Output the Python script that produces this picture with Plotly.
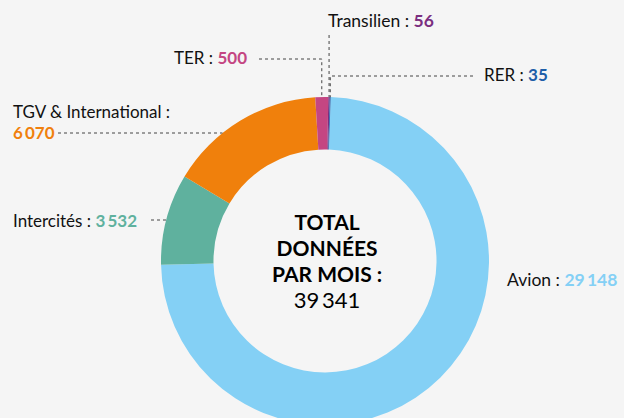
import math
import plotly.graph_objects as go

# ---- data ----
categories = ["Avion", "Intercités", "TGV & International", "TER", "Transilien", "RER"]
values = [29148, 3532, 6070, 500, 56, 35]
colors = ["#84d0f5", "#5fb19e", "#f0800c", "#c44682", "#7b2e80", "#1d5ea8"]
total_lines = ["TOTAL", "DONNÉES", "PAR MOIS :"]

W, H = 624, 426
CX, CY, R = 325, 261, 164
ROT = 2
FONT = "Lato"
BG = "#f5f5f5"
LINE = dict(color="#444444", width=1, dash="dot")


def fmt(v):
    return f"{v:,}".replace(",", "\u2009")


def px(x):
    return x / W


def py(y):
    return 1 - y / H


total = sum(values)
mid_angle = {}
cum = 0
for c, v in zip(categories, values):
    mid_angle[c] = ROT + 360 * (cum + v / 2) / total
    cum += v


def edge(cat):
    a = math.radians(mid_angle[cat])
    return CX + R * math.sin(a), CY - R * math.cos(a)


def circle_x(y, side):
    d = math.sqrt(max(R * R - (y - CY) ** 2, 0))
    return CX - d if side == "left" else CX + d


fig = go.Figure(
    go.Pie(
        labels=categories,
        values=values,
        marker=dict(colors=colors, line=dict(width=0)),
        hole=0.68,
        sort=False,
        direction="clockwise",
        rotation=ROT,
        textinfo="none",
        hoverinfo="label+value",
        showlegend=False,
        domain=dict(x=[px(CX - R), px(CX + R)], y=[py(CY + R), py(CY - R)]),
    )
)

shapes = []


def path(points):
    d = "M " + " L ".join(f"{px(x)},{py(y)}" for x, y in points)
    shapes.append(dict(type="path", path=d, xref="paper", yref="paper", line=LINE))


# TER
ex, ey = edge("TER")
path([(259, 59), (ex, 59), (ex, ey)])
# Transilien
ex, ey = edge("Transilien")
path([(ex, 35), (ex, ey)])
# RER
ex, ey = edge("RER")
path([(473, 76), (ex, 76), (ex, ey)])
# TGV
path([(58, 133), (circle_x(133, "left"), 133)])
# Intercités
path([(151, 220), (circle_x(220, "left"), 220)])
# Avion
path([(487, 279), (circle_x(279, "right") - 1, 279)])

cmap = dict(zip(categories, colors))
ann = []


def label(x, y, text, size=17):
    ann.append(dict(x=px(x), y=py(y), xref="paper", yref="paper", text=text,
                    showarrow=False, xanchor="left", yanchor="middle",
                    font=dict(family=FONT, size=size, color="#111111")))


def num(cat):
    return f"<b><span style='color:{cmap[cat]}'>{fmt(values[categories.index(cat)])}</span></b>"


label(326, 20, f"Transilien : {num('Transilien')}", 17.5)
label(172, 58, f"TER : {num('TER')}")
label(482, 74, f"RER : {num('RER')}")
label(11, 111, "TGV & International :")
label(11, 133, num("TGV & International"))
label(11, 220, f"Intercités : {num('Intercités')}")
label(505, 279, f"Avion : {num('Avion')}", 17.5)

center_text = "<br>".join(f"<span style='font-size:21px'><b>{t}</b></span>" for t in total_lines)
center_text += f"<br><span style='font-size:22px'>{fmt(total)}</span>"
ann.append(dict(x=px(CX + 2), y=py(261), xref="paper", yref="paper", text=center_text,
                showarrow=False, xanchor="center", yanchor="middle", align="center",
                font=dict(family=FONT, size=20, color="#000000")))

fig.update_layout(
    width=W, height=H,
    margin=dict(l=0, r=0, t=0, b=0),
    paper_bgcolor=BG, plot_bgcolor=BG,
    shapes=shapes, annotations=ann,
)

fig.write_html(
    "out.html",
    config={"displayModeBar": False},
    post_script="document.body.style.margin='0';document.body.style.overflow='hidden';"
                "document.documentElement.style.overflow='hidden';document.body.style.background='#f5f5f5';",
)
